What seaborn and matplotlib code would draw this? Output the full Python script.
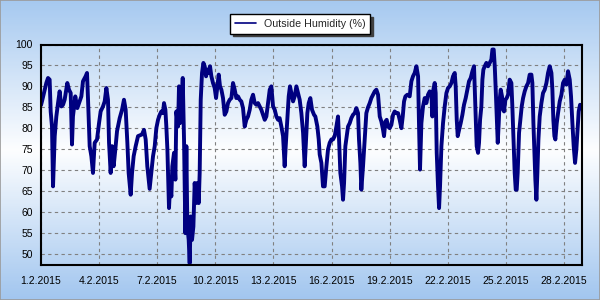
import numpy as np
import pandas as pd
import matplotlib
matplotlib.use("Agg")
import matplotlib.pyplot as plt
import matplotlib.dates as mdates
from matplotlib.ticker import FuncFormatter, MultipleLocator
from matplotlib.colors import LinearSegmentedColormap
from matplotlib.patches import Rectangle
import seaborn as sns

# ---- data (hours since 1.2.2015 00:00, outside humidity %) ----
hours = [0, 1.2, 6.6, 8.7, 10.7, 12.0, 13.6, 14.9, 17.0, 19.0, 21.1, 23.1, 25.2, 27.3, 29.3,
         32.6, 34.7, 36.8, 38.4, 39.6, 42.5, 45.0, 47.9, 50.0, 52.0, 55.3, 57.0, 58.2, 60.3,
         62.4, 64.4, 66.5, 69.4, 71.9, 73.9, 76.8, 78.9, 81.0, 83.0, 84.3, 86.3, 88.0, 90.0,
         92.1, 94.2, 97.5, 100.4, 102.8, 104.9, 107.0, 108.6, 111.1, 112.8, 114.8, 117.3,
         120.2, 125.1, 127.6, 129.7, 131.7, 134.6,
         138.8, 140.9, 142.9, 145.0, 147.1, 149.1, 151.2, 152.4, 154.1, 155.3, 156.6, 157.4,
         158.6, 159.9, 161.5, 162.7, 164.8, 166.5, 167.7, 169.8, 171.0, 172.2, 173.9, 175.6,
         177.2, 178.9, 180.1, 181.3, 183.0, 184.2, 185.5, 187.1, 188.8, 190.4, 192.1, 193.7,
         195.4, 196.6, 197.9, 199.5, 201.2, 202.8, 204.5, 206.1, 207.8, 209.4, 211.1, 213.1,
         215.2, 216.9, 218.5, 220.2, 221.8, 223.5, 225.5, 227.6, 229.7, 231.7, 233.8, 235.9,
         237.9, 240.0, 242.0, 244.1, 246.2, 248.2, 250.3, 252.4, 254.4, 256.5, 258.6, 260.6,
         262.7, 264.8, 266.8,
         268.9, 271.0, 273.0, 275.1, 277.2, 279.2, 281.3, 283.4, 285.4, 287.5, 289.6, 291.6,
         293.7, 295.7, 297.8, 299.9, 301.9, 303.2, 305.2, 306.9, 308.5, 310.2, 312.3, 314.3,
         316.4, 318.5, 320.5, 322.6, 324.7, 326.7, 328.0, 330.0, 331.7, 333.7, 335.8, 338.3,
         339.9, 342.4, 344.1, 345.3, 347.4, 349.4, 351.5, 353.6, 355.6, 357.7, 359.8, 361.8,
         363.9, 366.0, 368.0, 369.3, 370.9, 373.0, 374.2, 375.5, 377.1, 378.8, 380.4, 382.5,
         384.5, 386.6, 388.7, 390.7, 392.8, 394.0, 395.7, 396.9, 399.0, 401.1, 403.1,
         405.2, 407.3, 409.3, 411.4, 413.5, 415.5, 417.6, 419.7, 421.7, 423.8, 425.0, 426.7,
         428.3, 430.0, 432.0, 434.1, 436.2, 438.2, 440.3, 442.4, 444.4, 446.5, 448.2, 449.8,
         451.5, 453.9, 456.8, 458.9, 460.9, 463.0, 465.1, 467.2, 468.4, 469.6, 471.3, 473.3,
         475.4, 477.5, 479.5, 481.6, 483.7, 484.9, 486.1, 487.8, 489.0, 490.3, 491.9, 493.2,
         494.4, 496.1, 498.1, 500.2, 502.3, 504.3, 506.4, 508.5, 510.5, 512.6, 513.8, 515.1,
         516.3, 518.0, 520.0, 522.1, 524.1, 526.2, 528.3, 530.3, 532.4, 534.5, 536.5, 538.2,
         539.8,
         541.5, 542.7, 544.0, 545.6, 546.9, 548.1, 549.8, 551.8, 553.9, 556.0, 558.0, 559.3,
         560.9, 562.2, 563.4, 564.6, 565.9, 567.1, 568.3, 569.6, 571.2, 572.5, 573.7, 575.4,
         577.0, 578.7, 580.7, 582.8, 584.0, 585.3, 586.9, 588.2, 589.4, 590.6, 592.3, 593.9,
         595.6, 597.3, 599.3, 601.4, 603.5, 605.5, 607.6, 608.8, 610.1, 611.3, 612.5, 613.8,
         615.0, 616.3, 617.9, 620.0, 622.0, 624.1, 626.2, 628.2, 630.3, 632.4, 633.6, 634.8,
         636.1, 637.3, 639.0, 640.6, 642.7, 644.8, 646.8, 648.9, 651.0, 653.0, 655.1, 656.7,
         658.4, 660.0, 661.7, 663.3, 664.6, 666.2, 667.9]

humidity = [85.5, 86.4, 90.8, 92.0, 91.6, 84.0, 80.4, 66.1, 78.1, 82.8, 86.0, 88.8, 85.2, 85.6, 86.8,
            90.8, 89.2, 88.4, 76.1, 82.8, 87.6, 84.8, 86.4, 87.6, 91.2, 92.4, 93.2, 87.2, 75.7,
            73.3, 69.3, 76.5, 77.3, 81.2, 84.0, 85.2, 86.4, 89.6, 86.8, 76.5, 69.3, 75.7, 70.9,
            74.9, 79.3, 82.4, 84.4, 86.8, 84.4, 76.5, 69.3, 64.1, 69.3, 73.3, 75.7,
            78.1, 78.5, 79.6, 77.3, 70.9, 65.5,
            73.3, 75.7, 80.0, 82.0, 83.2, 84.0, 83.6, 86.0, 84.4, 80.4, 74.9, 69.3,
            60.9, 66.1, 63.7, 70.9, 74.1, 67.7, 84.0, 80.4, 90.0, 81.2, 84.4, 92.0,
            77.3, 54.9, 75.7, 56.5, 53.3, 47.7, 58.9, 53.3, 56.5, 66.9, 62.1, 66.9,
            62.1, 69.3, 86.8, 93.2, 95.6, 94.8, 92.4, 94.0, 93.2, 94.8, 92.4, 90.8,
            89.6, 87.2, 90.0, 92.8, 90.0, 89.2, 87.2, 83.2, 84.0, 86.0, 86.8, 87.2,
            90.8, 89.2, 87.2, 87.6, 86.8, 86.4, 84.8, 80.4, 82.0, 82.8, 84.4, 86.8,
            88.0, 86.0, 85.6,
            86.0, 85.2, 84.4, 83.2, 82.0, 82.8, 86.0, 89.2, 90.0, 85.2, 84.4, 82.8,
            82.0, 82.4, 80.4, 78.1, 70.9, 75.7, 82.0, 87.6, 90.0, 88.4, 86.4, 87.6,
            90.0, 88.4, 86.8, 83.6, 78.9, 70.9, 75.7, 83.6, 86.0, 87.2, 84.4, 83.2,
            82.8, 80.4, 77.3, 73.7, 71.7, 66.1, 66.1, 70.9, 74.9, 76.5, 77.3, 77.3,
            78.1, 80.4, 82.8, 77.3, 69.3, 66.1, 62.9, 66.9, 75.7, 78.1, 80.4, 81.2,
            82.4, 83.2, 83.6, 84.8, 83.6, 77.3, 71.7, 65.3, 70.9, 77.3, 83.6,
            85.0, 86.0, 87.2, 88.0, 88.8, 89.2, 88.0, 82.8, 81.6, 79.6, 78.1, 81.6,
            82.0, 80.4, 80.0, 80.8, 83.2, 84.0, 83.6, 83.6, 82.0, 80.0, 82.8, 86.4,
            87.6, 88.0, 87.6, 91.2, 92.4, 93.2, 94.8, 92.4, 80.4, 70.1, 81.2, 85.2,
            87.2, 86.0, 88.0, 88.8, 88.4, 82.8, 89.2, 90.8, 88.4, 74.1, 66.1, 60.9,
            66.1, 75.7, 81.2, 85.2, 88.4, 89.6, 90.0, 90.8, 92.4, 93.2, 90.0, 82.0,
            78.1, 79.6, 81.2, 83.2, 85.6, 87.2, 89.2, 91.2, 92.0, 93.6, 94.8, 85.2,
            75.7,
            74.1, 76.5, 82.0, 85.2, 91.6, 94.0, 94.8, 95.6, 94.8, 95.6, 96.4, 98.8,
            98.8, 94.8, 89.2, 82.8, 76.5, 81.2, 86.8, 89.2, 87.6, 84.4, 84.0, 86.8,
            87.2, 88.0, 91.6, 90.8, 85.2, 78.1, 69.3, 65.3, 65.3, 69.3, 78.9, 82.0,
            85.2, 87.2, 88.8, 90.0, 90.8, 92.8, 92.8, 90.8, 81.2, 74.1, 67.7, 62.9,
            69.3, 77.3, 82.8, 86.0, 88.4, 89.2, 90.8, 93.2, 94.8, 93.2, 89.2, 82.0,
            78.1, 77.3, 81.2, 83.6, 86.4, 88.0, 90.8, 91.6, 90.4, 93.6, 91.6, 87.6,
            81.2, 75.7, 71.7, 74.9, 78.9, 84.0, 85.6]

series_label = "Outside Humidity (%)"
y_ticks = [50, 55, 60, 65, 70, 75, 80, 85, 90, 95, 100]

start = pd.Timestamp("2015-02-01")
df = pd.DataFrame({
    "time": start + pd.to_timedelta(np.array(hours), unit="h"),
    "humidity": humidity,
})

sns.set_style("white")
plt.rcParams["font.family"] = ["Liberation Sans", "DejaVu Sans"]
plt.rcParams["font.size"] = 7.5

fig = plt.figure(figsize=(6, 3), dpi=100)

# background gradient (whole figure)
bg = fig.add_axes([0, 0, 1, 1])
cmap = LinearSegmentedColormap.from_list(
    "bg", [(0.0, "#a6c9f0"), (0.5, "#fdfeff"), (1.0, "#a2c6ef")])
grad = np.linspace(0, 1, 300).reshape(-1, 1)
bg.imshow(grad, aspect="auto", cmap=cmap, extent=[0, 1, 0, 1], origin="upper")
bg.axis("off")
bg.set_zorder(-5)
fig.patches.append(Rectangle((0, 0), 1, 1, transform=fig.transFigure,
                             fill=False, edgecolor="#9a9a9a", lw=1.2))

ax = fig.add_axes([41 / 600, 1 - 265 / 300, (581.6 - 41) / 600, (265 - 44.5) / 300])
ax.set_facecolor("none")

sns.lineplot(data=df, x="time", y="humidity", ax=ax, color="#000080",
             linewidth=2.8, label=series_label, sort=True)

ax.set_xlim(start, start + pd.Timedelta(hours=669.8))
ax.set_ylim(47.3, 100)
ax.set_yticks(y_ticks)
ax.set_xlabel("")
ax.set_ylabel("")

ax.xaxis.set_major_locator(mdates.DayLocator(bymonthday=range(1, 32, 3)))
ax.xaxis.set_minor_locator(MultipleLocator(0.75))
ax.xaxis.set_major_formatter(FuncFormatter(
    lambda v, p: (lambda d: f"{d.day}.{d.month}.{d.year}")(mdates.num2date(v))))

ax.grid(True, which="major", color="#808080", linestyle=(0, (3, 3)), linewidth=0.8)
ax.set_axisbelow(True)

ax.tick_params(axis="both", which="both", direction="out", color="black",
               labelcolor="black", labelsize=7.5)
ax.tick_params(axis="x", which="major", length=3, width=0.8, pad=5)
ax.tick_params(axis="x", which="minor", length=3, width=0.8)
ax.tick_params(axis="y", which="major", length=3, width=0.8, pad=3)

for s in ax.spines.values():
    s.set_visible(True)
    s.set_color("black")
    s.set_linewidth(1.5)

leg = ax.legend(loc="upper center", bbox_to_anchor=(0.5, 1 - 14 / 300),
                bbox_transform=fig.transFigure, frameon=True, fancybox=False,
                shadow={"color": "#404040", "alpha": 1.0}, framealpha=1.0, edgecolor="black",
                fontsize=7.7, handlelength=2.0, handletextpad=0.7, borderpad=0.45,
                borderaxespad=0)
leg.get_frame().set_linewidth(1.0)
for line in leg.get_lines():
    line.set_linewidth(1.2)

fig.savefig("out.png", dpi=100)
